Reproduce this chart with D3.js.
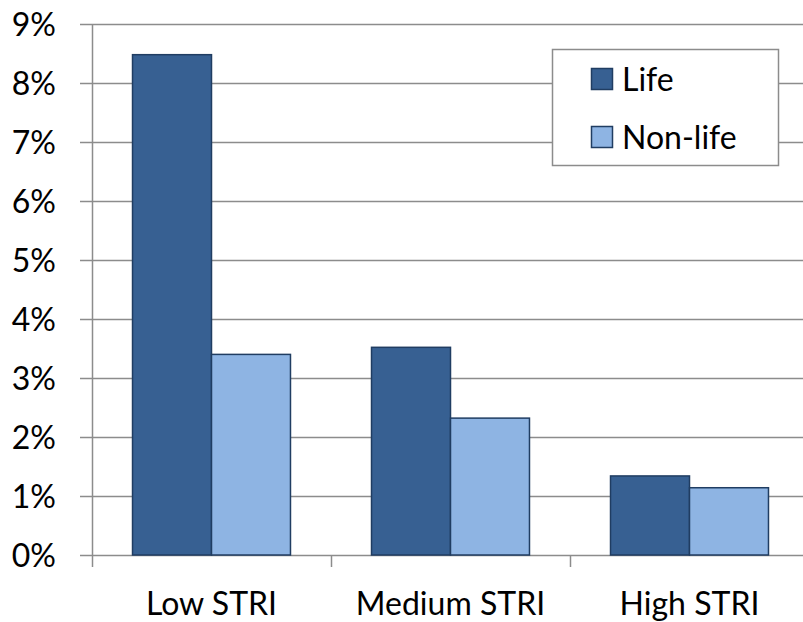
<!DOCTYPE html>
<html><head><meta charset="utf-8">
<script src="https://cdn.jsdelivr.net/npm/d3@7"></script>
<style>body{margin:0;background:#fff}svg{display:block}text{font-family:Lato,"Open Sans",sans-serif;fill:#000}</style>
</head><body><svg id="c" width="803" height="622"></svg>
<script>
const categories = ["Low STRI", "Medium STRI", "High STRI"];
const seriesNames = ["Life", "Non-life"];
const life = [0.0848, 0.0352, 0.0134];
const nonLife = [0.034, 0.0232, 0.0114];
const yTicks = [0, 0.01, 0.02, 0.03, 0.04, 0.05, 0.06, 0.07, 0.08, 0.09];
const colors = {"Life": "#376092", "Non-life": "#8EB4E3"};
const seriesValues = {"Life": life, "Non-life": nonLife};

const svg = d3.select("#c");
const fs = 32;
const x = d3.scaleBand().domain(categories).range([92, 809]).padding(0);
const x1 = d3.scaleBand().domain(seriesNames).range([0, x.bandwidth()]).paddingInner(0).paddingOuter(0.513);
const y = d3.scaleLinear().domain([0, 0.09]).range([555, 24]);

// gridlines
svg.append("g").selectAll("line").data(yTicks).join("line")
  .attr("x1", 80).attr("x2", 803)
  .attr("y1", d => Math.round(y(d)) + 0.5).attr("y2", d => Math.round(y(d)) + 0.5)
  .attr("stroke", "#8c8c8c").attr("stroke-width", 1.5);

// y axis line
svg.append("line").attr("x1", 92.5).attr("x2", 92.5).attr("y1", y(0.09)).attr("y2", 555)
  .attr("stroke", "#8c8c8c").attr("stroke-width", 1.5);

// y labels
svg.append("g").selectAll("text").data(yTicks).join("text")
  .attr("x", 56).attr("y", d => y(d)).attr("dy", "0.36em")
  .attr("text-anchor", "end").attr("font-size", fs)
  .text(d => d3.format(".0%")(d));

// category ticks
const tickXs = categories.map(c => x(c));
svg.append("g").selectAll("line").data(tickXs).join("line")
  .attr("x1", d => Math.round(d) + 0.5).attr("x2", d => Math.round(d) + 0.5)
  .attr("y1", 555).attr("y2", 567)
  .attr("stroke", "#8c8c8c").attr("stroke-width", 1.5);

// bars
const rows = [];
categories.forEach((c, i) => seriesNames.forEach(s => rows.push({c, s, v: seriesValues[s][i]})));
svg.append("g").selectAll("rect").data(rows).join("rect")
  .attr("x", d => x(d.c) + x1(d.s))
  .attr("width", x1.bandwidth())
  .attr("y", d => y(d.v))
  .attr("height", d => y(0) - y(d.v))
  .attr("fill", d => colors[d.s])
  .attr("stroke", "#203d62").attr("stroke-width", 1.5);

// x labels
svg.append("g").selectAll("text").data(categories).join("text")
  .attr("x", d => x(d) + x.bandwidth() / 2).attr("y", 615)
  .attr("text-anchor", "middle").attr("font-size", fs)
  .text(d => d);

// legend
const lg = svg.append("g");
lg.append("rect").attr("x", 552.5).attr("y", 49.5).attr("width", 226).attr("height", 116)
  .attr("fill", "#fff").attr("stroke", "#8c8c8c").attr("stroke-width", 1.5);
seriesNames.forEach((s, i) => {
  const yy = 68 + i * 58;
  lg.append("rect").attr("x", 591.5).attr("y", yy + 0.5).attr("width", 21).attr("height", 21)
    .attr("fill", colors[s]).attr("stroke", "#203d62").attr("stroke-width", 1.5);
  lg.append("text").attr("x", 622).attr("y", yy + 11).attr("dy", "0.36em")
    .attr("font-size", fs).text(s);
});
</script></body></html>
